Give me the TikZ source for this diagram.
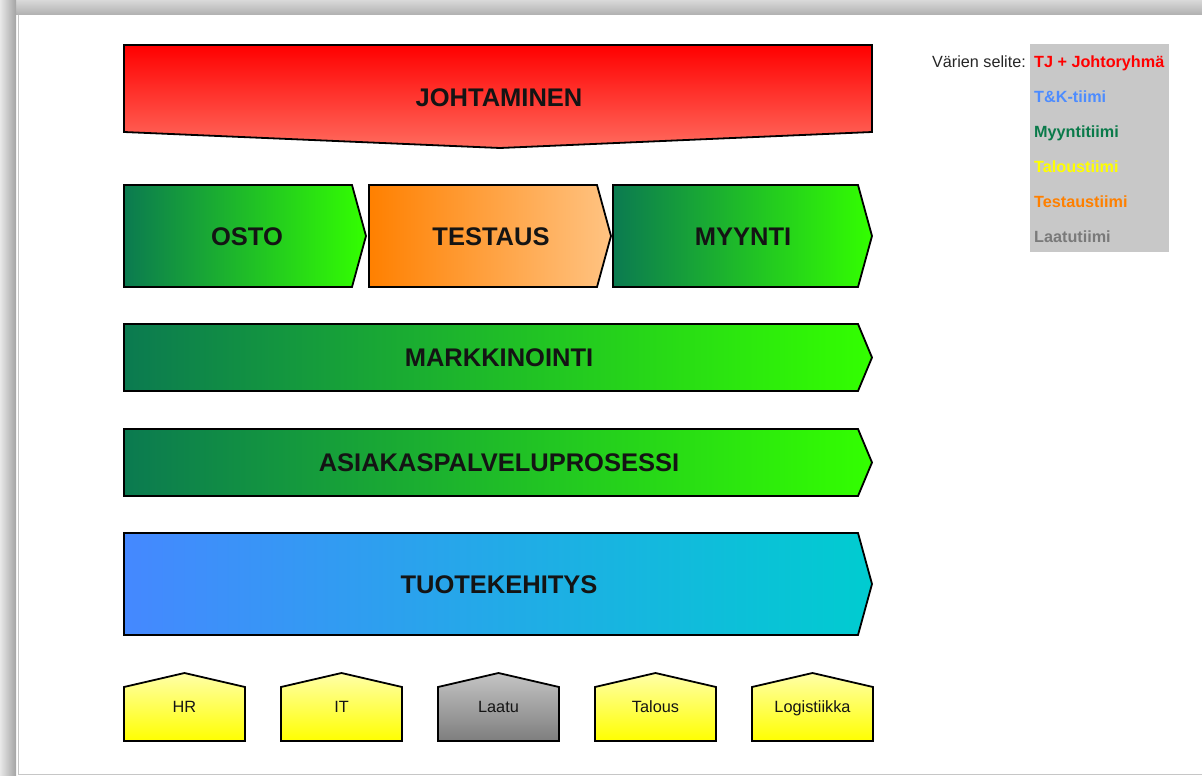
\documentclass[tikz,border=0pt]{standalone}
\usepackage{fontspec}
\setmainfont{Liberation Sans}
\definecolor{redT}{HTML}{FF0000}
\definecolor{redB}{HTML}{FF6B5E}
\definecolor{grnL}{HTML}{0B7A50}
\definecolor{grnR}{HTML}{33FF00}
\definecolor{orgL}{HTML}{FF8000}
\definecolor{orgR}{HTML}{FFC382}
\definecolor{bluL}{HTML}{4588FF}
\definecolor{bluR}{HTML}{00CCD0}
\definecolor{ylwT}{HTML}{FFFFA8}
\definecolor{ylwB}{HTML}{FFFF00}
\definecolor{gryT}{HTML}{C4C4C4}
\definecolor{gryB}{HTML}{7E7E7E}
\definecolor{legbg}{HTML}{C8C8C8}
\definecolor{legblue}{HTML}{4D8CFF}
\definecolor{leggreen}{HTML}{0A7A4A}
\definecolor{legyellow}{HTML}{FFFF00}
\definecolor{legorange}{HTML}{FF8000}
\definecolor{leggray}{HTML}{7A7A7A}
\definecolor{txt}{HTML}{141414}
\begin{document}
\begin{tikzpicture}[x=1pt,y=-1pt,
  procbox/.style={draw=black, line width=1.8pt, line join=miter},
  greenfill/.style={left color=grnL, right color=grnR},
  bigtext/.style={text=txt, font=\bfseries\fontsize{25.5}{30}\selectfont, inner sep=0pt,
    text height=18.3pt, text depth=0pt},
  housetext/.style={text=txt, font=\fontsize{16.3}{19}\selectfont, inner sep=0pt,
    text height=11.7pt, text depth=0pt},
  legtext/.style={anchor=west, font=\bfseries\fontsize{16.2}{19}\selectfont, inner sep=0pt,
    text height=11.6pt, text depth=0pt}]
\useasboundingbox (0,0) rectangle (1202,776);

% page frame with soft shadow at the top and left
\fill[white] (0,0) rectangle (1202,776);
\shade[top color=gray!30, bottom color=gray!62] (0,0) rectangle (1202,15);
\shade[left color=gray!18, right color=gray!72] (0,0) rectangle (16,776);
\draw[gray!45, line width=0.8pt] (18,15) -- (18,774) -- (1202,774);

% management
\path[procbox, top color=redT, bottom color=redB]
  (124,45) -- (872,45) -- (872,132) -- (500,148) -- (124,132) -- cycle;
\node[bigtext] (johto) at (499,97) {JOHTAMINEN};

% core process chain
\path[procbox, greenfill]
  (124,185) -- (352,185) -- (366,236) -- (352,287) -- (124,287) -- cycle;
\node[bigtext] (osto) at (247,236) {OSTO};
\path[procbox, left color=orgL, right color=orgR]
  (369,185) -- (597,185) -- (611,236) -- (597,287) -- (369,287) -- cycle;
\node[bigtext] (testaus) at (491,236) {TESTAUS};
\path[procbox, greenfill]
  (613,185) -- (858,185) -- (872,236) -- (858,287) -- (613,287) -- cycle;
\node[bigtext] (myynti) at (743,236) {MYYNTI};

\path[procbox, greenfill]
  (124,324) -- (858,324) -- (872,357.5) -- (858,391) -- (124,391) -- cycle;
\node[bigtext] (markk) at (499,357.5) {MARKKINOINTI};

\path[procbox, greenfill]
  (124,429) -- (858,429) -- (872,462.5) -- (858,496) -- (124,496) -- cycle;
\node[bigtext] (asiakas) at (499,462.5) {ASIAKASPALVELUPROSESSI};

\path[procbox, left color=bluL, right color=bluR]
  (124,533) -- (858,533) -- (872,584) -- (858,635) -- (124,635) -- cycle;
\node[bigtext] (tuote) at (499,584) {TUOTEKEHITYS};

% support functions
\foreach \x/\lbl/\nm/\ct/\cb in {124/HR/hr/ylwT/ylwB, 281/IT/it/ylwT/ylwB,
    438/Laatu/laatu/gryT/gryB, 595/Talous/talous/ylwT/ylwB,
    752/Logistiikka/logis/ylwT/ylwB}{
  \path[procbox, top color=\ct, bottom color=\cb]
    (\x,741) -- (\x,687) -- (\x+60.5,673) -- (\x+121,687) -- (\x+121,741) -- cycle;
  \node[housetext] (\nm) at (\x+60.5,707) {\lbl};
}

% colour legend
\fill[legbg] (1030,44) rectangle (1169,252);
\node[anchor=east, inner sep=0pt, text=black!85, font=\fontsize{16.2}{19}\selectfont,
  text height=11.6pt, text depth=0pt] (legtitle) at (1026,62) {Värien selite:};
\node[legtext, text=red] (leg1) at (1034,62) {TJ + Johtoryhmä};
\node[legtext, text=legblue] (leg2) at (1034,97) {T\&K-tiimi};
\node[legtext, text=leggreen] (leg3) at (1034,131.5) {Myyntitiimi};
\node[legtext, text=legyellow] (leg4) at (1034,166.5) {Taloustiimi};
\node[legtext, text=legorange] (leg5) at (1034,201.5) {Testaustiimi};
\node[legtext, text=leggray] (leg6) at (1034,236.5) {Laatutiimi};
\end{tikzpicture}
\end{document}
